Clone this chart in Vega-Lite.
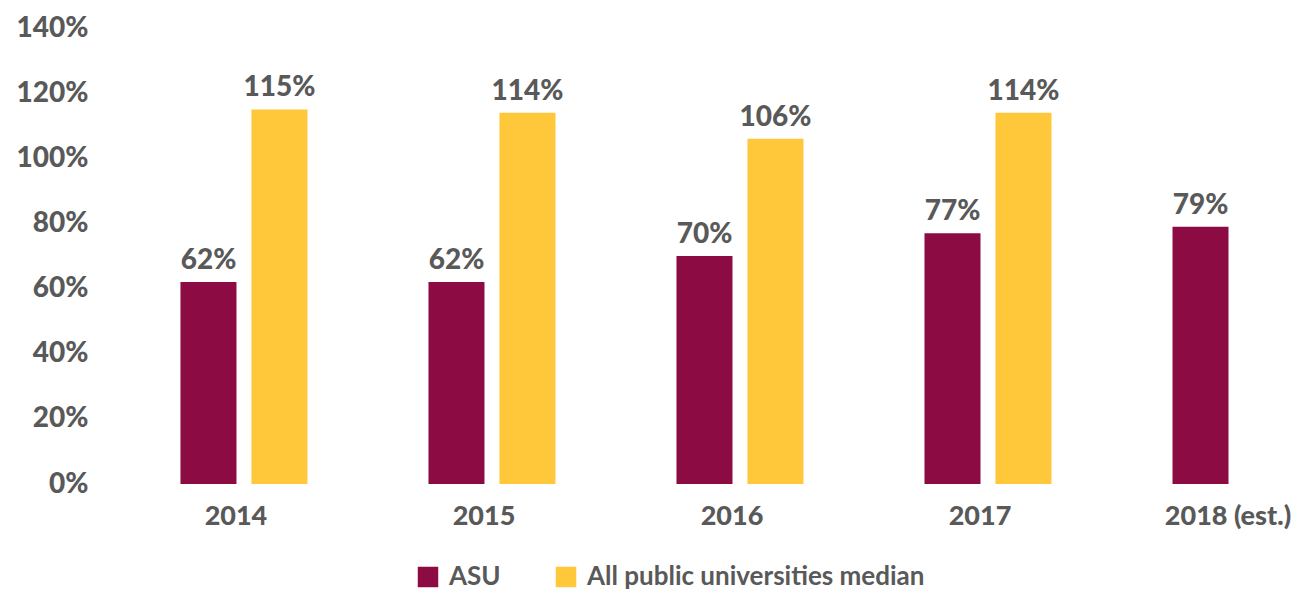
{
  "$schema": "https://vega.github.io/schema/vega-lite/v6.json",
  "width": 1183,
  "height": 456,
  "autosize": {"type": "none"},
  "padding": {"left": 120, "top": 28, "right": 0, "bottom": 107},
  "background": "#ffffff",
  "config": {"view": {"stroke": null}, "font": "Lato"},
  "data": {
    "values": [
      {"year": "2014", "series": "ASU", "value": 0.62},
      {"year": "2014", "series": "All public universities median", "value": 1.15},
      {"year": "2015", "series": "ASU", "value": 0.62},
      {"year": "2015", "series": "All public universities median", "value": 1.14},
      {"year": "2016", "series": "ASU", "value": 0.70},
      {"year": "2016", "series": "All public universities median", "value": 1.06},
      {"year": "2017", "series": "ASU", "value": 0.77},
      {"year": "2017", "series": "All public universities median", "value": 1.14},
      {"year": "2018 (est.)", "series": "ASU", "value": 0.79}
    ]
  },
  "encoding": {
    "x": {
      "field": "year",
      "type": "nominal",
      "sort": null,
      "scale": {"paddingInner": 0.488, "paddingOuter": 0.129, "align": 0.945, "round": false},
      "axis": {
        "title": null,
        "labelAngle": 0,
        "domain": false,
        "ticks": false,
        "labelFont": "Lato",
        "labelFontWeight": 900,
        "labelFontSize": 27,
        "labelColor": "#595959",
        "labelPadding": 19,
        "labelOffset": -8,
        "labelLimit": 0
      }
    },
    "xOffset": {
      "field": "series",
      "type": "nominal",
      "sort": ["ASU", "All public universities median"],
      "scale": {"paddingInner": 0.211, "paddingOuter": 0, "domain": ["ASU", "All public universities median"]}
    },
    "y": {
      "field": "value",
      "type": "quantitative",
      "scale": {"domain": [0, 1.4], "nice": false},
      "axis": {
        "title": null,
        "format": ".0%",
        "values": [0, 0.2, 0.4, 0.6, 0.8, 1.0, 1.2, 1.4],
        "domain": false,
        "ticks": false,
        "grid": false,
        "labelFont": "Lato",
        "labelFontWeight": 900,
        "labelFontSize": 28,
        "labelColor": "#595959",
        "labelPadding": 32
      }
    }
  },
  "layer": [
    {
      "mark": {"type": "bar"},
      "encoding": {
        "color": {
          "field": "series",
          "type": "nominal",
          "scale": {"domain": ["ASU", "All public universities median"], "range": ["#8C0B42", "#FFC73A"]},
          "legend": {
            "orient": "none",
            "legendX": 295,
            "legendY": 536,
            "direction": "horizontal",
            "title": null,
            "symbolType": "square",
            "symbolSize": 420,
            "symbolStrokeWidth": 0,
            "labelFont": "Lato",
            "labelFontWeight": "bold",
            "labelFontSize": 26,
            "labelColor": "#595959",
            "labelOffset": 8,
            "labelLimit": 0,
            "columnPadding": 52
          }
        }
      }
    },
    {
      "mark": {"type": "text", "baseline": "alphabetic", "dy": -13, "font": "Lato", "fontWeight": 900, "fontSize": 28, "color": "#595959"},
      "encoding": {
        "text": {"field": "value", "type": "quantitative", "format": ".0%"}
      }
    }
  ]
}
